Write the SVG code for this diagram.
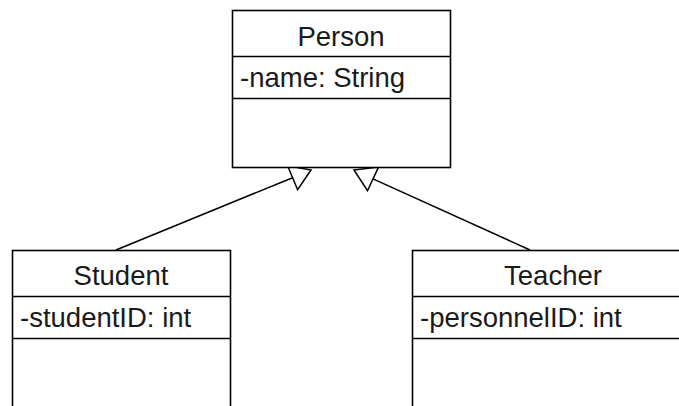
<svg xmlns="http://www.w3.org/2000/svg" width="679" height="406" viewBox="0 0 679 406">
  <style>
    .box { fill: #ffffff; stroke: #000000; stroke-width: 1.6; }
    .div { stroke: #000000; stroke-width: 1.6; }
    .edge { stroke: #000000; stroke-width: 1.5; fill: none; }
    .head { fill: #ffffff; stroke: #000000; stroke-width: 1.5; stroke-linejoin: miter; }
    text { font-family: "Liberation Sans", Arial, sans-serif; font-size: 27.5px; fill: #1a1a1a; }
    .title { text-anchor: middle; }
  </style>

  <!-- generalization connectors -->
  <g id="connectors">
    <path class="edge" d="M116,250 L292.6,177.7"/>
    <polygon class="head" points="311,170 297.6,189.7 287.6,165.7"/>
    <path class="edge" d="M530,250 L373,178.9"/>
    <polygon class="head" points="354,170 378.5,167.1 367.5,190.7"/>
  </g>

  <g id="person">
    <rect class="box" x="232.5" y="10.5" width="218" height="157"/>
    <line class="div" x1="232.5" y1="56.5" x2="450.5" y2="56.5"/>
    <line class="div" x1="232.5" y1="98.5" x2="450.5" y2="98.5"/>
    <text class="title" x="341" y="46">Person</text>
    <text x="240" y="87">-name: String</text>
  </g>

  <g id="student">
    <rect class="box" x="12.5" y="250.5" width="218" height="170"/>
    <line class="div" x1="12.5" y1="296.5" x2="230.5" y2="296.5"/>
    <line class="div" x1="12.5" y1="338.5" x2="230.5" y2="338.5"/>
    <text class="title" x="121" y="285">Student</text>
    <text x="20" y="327">-studentID: int</text>
  </g>

  <g id="teacher">
    <rect class="box" x="412.5" y="250.5" width="282" height="170"/>
    <line class="div" x1="412.5" y1="296.5" x2="694.5" y2="296.5"/>
    <line class="div" x1="412.5" y1="338.5" x2="694.5" y2="338.5"/>
    <text class="title" x="553" y="285">Teacher</text>
    <text x="420" y="327">-personnelID: int</text>
  </g>
</svg>
